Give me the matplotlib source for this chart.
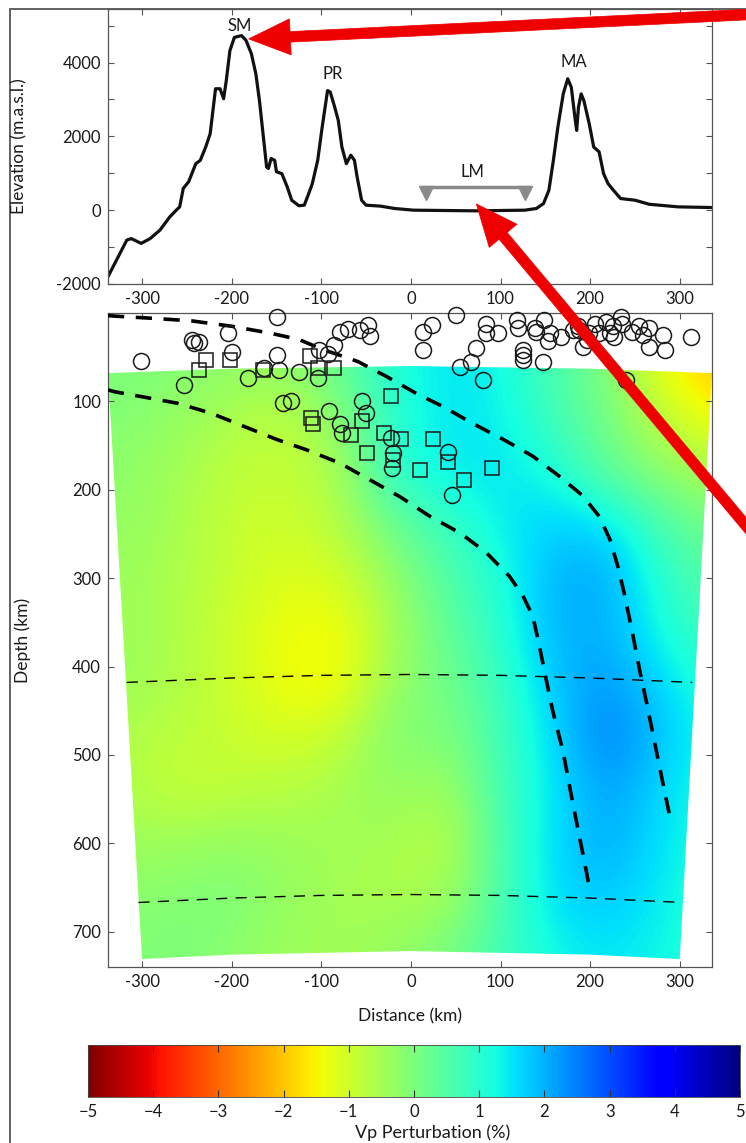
import numpy as np
import matplotlib
matplotlib.use('Agg')
import matplotlib.pyplot as plt
from matplotlib.patches import Polygon, Rectangle

plt.rcParams['font.family'] = ['Lato', 'DejaVu Sans']
plt.rcParams['axes.unicode_minus'] = False

# ---------------- data ----------------
# Elevation profile (km, m)
topo_dist = [-338, -317, -312, -301, -291, -280, -269, -261, -258, -254, -248, -240, -235,
             -229, -224, -218, -213, -209, -206, -202, -197, -189, -184, -178, -173, -169,
             -165, -161, -159, -156, -152, -150, -144, -138, -133, -125, -119, -114, -110,
             -104, -99, -93, -90, -85, -81, -77, -72, -67, -63, -60, -55, -50, -34, -18,
             3, 73, 127, 140, 148, 154, 159, 164, 170, 175, 179, 183, 185, 187, 190, 193,
             199, 204, 210, 215, 220, 226, 234, 250, 266, 298, 339]
topo_elev = [-1800, -810, -770, -900, -770, -540, -180, 20, 90, 590, 770, 1260, 1350,
             1710, 2070, 3290, 3290, 3020, 3510, 4320, 4680, 4730, 4600, 4240, 3690, 2970,
             2070, 1170, 1130, 1400, 1350, 1040, 990, 630, 270, 120, 135, 450, 720,
             1350, 2250, 3240, 3200, 2790, 2430, 1710, 1260, 1490, 1350, 900, 270, 135, 110, 45,
             0, -18, 0, 45, 180, 540, 1350, 2250, 3150, 3560, 3330, 2520, 2160, 2790, 3150, 2970,
             2340, 1710, 1580, 990, 720, 540, 315, 270, 160, 90, 70]

peak_names = ['SM', 'PR', 'MA', 'LM']
peak_x = [-191, -87, 182, 69]
peak_y = [5000, 3680, 4010, 1040]

lm_bar_x = [12, 133]
lm_bar_y = [620, 620]
lm_tri_x = [17, 127]
lm_tri_y = [470, 470]

# Velocity model (Vp perturbation, %) on a coarse grid
vel_x = [-320, -260, -200, -140, -80, -20, 40, 100, 160, 220, 280, 340]
vel_z = [60, 120, 180, 240, 300, 360, 420, 480, 540, 600, 660, 720]
vel = [
    [0.0, -0.1, -0.2, -0.3, 0.3, 1.1, 1.5, 1.3, 0.6, 0.0, -1.4, -2.0],
    [-0.1, -0.3, -0.6, -0.8, -0.2, 1.0, 1.5, 1.4, 0.7, 0.1, -0.8, -1.5],
    [-0.2, -0.5, -0.8, -0.9, -0.6, 1.0, 1.4, 1.5, 1.2, 0.3, -0.2, -0.6],
    [-0.3, -0.5, -0.9, -1.0, -0.7, 0.2, 0.8, 1.4, 1.7, 1.6, 0.6, 0.1],
    [-0.4, -0.6, -0.9, -1.2, -1.1, -0.3, 0.5, 1.1, 2.0, 2.1, 1.0, 0.4],
    [-0.4, -0.6, -1.0, -1.4, -1.5, -0.5, 0.3, 1.0, 2.0, 2.0, 1.2, 0.7],
    [-0.4, -0.6, -1.0, -1.4, -1.5, -0.3, 0.1, 0.8, 1.8, 2.3, 1.6, 1.0],
    [-0.6, -0.8, -0.9, -1.1, -0.9, 0.0, -0.1, 0.7, 1.6, 2.6, 1.8, 1.2],
    [-0.6, -0.9, -0.8, -0.7, -0.5, -0.3, -0.5, 0.7, 1.5, 2.2, 1.6, 1.1],
    [-0.4, -0.4, -0.3, -0.4, -0.5, -0.5, -0.8, 0.6, 1.6, 2.1, 1.5, 1.1],
    [-0.2, -0.1, 0.0, -0.3, -0.5, -0.6, -0.5, 0.6, 1.6, 1.8, 1.4, 1.0],
    [-0.1, 0.0, -0.2, -0.4, -0.5, -0.3, 0.0, 0.7, 1.3, 1.5, 1.3, 1.0],
]

# Model outline (km, depth)
field_top_x = [-338, -200, 0, 200, 336]
field_top_z = [68, 63, 60, 63, 68]
field_bot_x = [300, 200, 0, -200, -300]
field_bot_z = [731, 726, 722, 726, 731]

# Discontinuities
d410_x = [-317, -200, -100, 0, 100, 200, 314]
d410_z = [418, 413, 410, 409, 410, 413, 418]
d660_x = [-304, -200, -100, 0, 100, 200, 303]
d660_z = [667, 662, 659, 658, 659, 662, 667]

# Slab outlines
upper_x = [-338, -323, -288, -244, -200, -156, -125, -99, -59, -27, 6, 36, 69, 103, 136,
           166, 192, 210, 222, 231, 238, 248, 256, 263, 272, 281, 290]
upper_z = [3, 4, 6, 9, 15, 23, 30, 41, 55, 72, 91, 106, 125, 143, 162,
           185, 207, 230, 256, 287, 317, 366, 408, 441, 486, 531, 575]
lower_x = [-338, -331, -261, -224, -187, -150, -116, -79, -49, -12, 21, 55, 84, 110, 125,
           136, 142, 149, 158, 170, 179, 188, 196, 200]
lower_z = [87, 89, 102, 113, 128, 143, 155, 170, 187, 208, 230, 249, 271, 298, 320,
           343, 370, 405, 449, 497, 546, 592, 633, 655]

# Earthquakes
circ_x = [-301, -244, -242, -237, -204, -200, -253, -182, -164, -149, -147, -149, -125, -143,
          -134, -103, -104, -92, -86, -79, -70, -57, -48, -46, -55, -50, -91, -79, -77, -22,
          -20, -21, 41, 46,
          14, 23, 14, 50, 55, 67, 73, 80, 84, 84, 97, 118, 119, 125, 125, 125, 138, 140, 149,
          147, 153, 155, 168, 181, 186, 188, 192, 196, 199, 205, 210, 218, 222, 225, 227, 235,
          236, 240, 247, 255, 259, 266, 266, 281, 283, 313]
circ_z = [54, 30, 34, 33, 23, 44, 82, 73, 62, 47, 64, 4, 67, 102,
          100, 42, 74, 46, 36, 21, 18, 19, 14, 26, 100, 113, 111, 126, 136, 142,
          158, 175, 157, 206,
          21, 14, 42, 2, 61, 55, 40, 76, 12, 23, 23, 8, 17, 42, 47, 53, 17, 21, 8,
          56, 32, 23, 27, 19, 15, 19, 38, 30, 23, 12, 23, 10, 23, 15, 27, 4,
          12, 76, 21, 15, 25, 17, 38, 25, 42, 27]
sq_x = [-229, -237, -202, -165, -113, -104, -86, -22, -112, -109, -55, -67, -30, -11, 25,
        -49, -20, 10, 41, 59, 90]
sq_z = [53, 65, 53, 65, 49, 62, 62, 94, 119, 126, 122, 138, 136, 143, 143,
        158, 166, 178, 169, 189, 175]

cbar_ticks = [-5, -4, -3, -2, -1, 0, 1, 2, 3, 4, 5]

# ---------------- figure ----------------
W, H = 746, 1143
fig = plt.figure(figsize=(W / 100, H / 100), dpi=100)

def fax(l, t, r, b):
    return [l / W, 1 - b / H, (r - l) / W, (b - t) / H]

spine_c = '#555555'
tick_kw = dict(direction='in', length=4, width=0.8, color=spine_c, labelsize=12,
               labelcolor='#1a1a1a')

# ---- top panel
ax1 = fig.add_axes(fax(108, 9, 712, 284))
ax1.set_zorder(5)
ax1.plot(topo_dist, topo_elev, color='#111111', lw=2.3, solid_joinstyle='round')
ax1.set_xlim(-338, 336)
ax1.set_ylim(-2000, 5450)
ax1.set_xticks([-300, -200, -100, 0, 100, 200, 300])
ax1.set_yticks(range(-2000, 5001, 1000))
ax1.set_yticklabels(['-2000', '', '0', '', '2000', '', '4000', ''])
ax1.tick_params(top=True, right=True, pad=5, **tick_kw)
for s in ax1.spines.values():
    s.set_color(spine_c)
    s.set_linewidth(0.9)
ax1.set_ylabel('Elevation (m.a.s.l.)', fontsize=12.5, color='#1a1a1a')
ax1.yaxis.set_label_coords(-0.134, 0.5)
for n, x, y in zip(peak_names, peak_x, peak_y):
    ax1.text(x, y, n, ha='center', va='center', fontsize=12, color='#1a1a1a')
ax1.plot(lm_bar_x, lm_bar_y, color='#8a8a8a', lw=2.5, solid_capstyle='butt')
ax1.plot(lm_tri_x, lm_tri_y, ls='none', marker='v', ms=9.5, color='#8a8a8a')

# ---- bottom panel
ax2 = fig.add_axes(fax(108, 313, 712, 967))
dx = vel_x[1] - vel_x[0]
dz = vel_z[1] - vel_z[0]
extent = (vel_x[0] - dx / 2, vel_x[-1] + dx / 2, vel_z[-1] + dz / 2, vel_z[0] - dz / 2)
im = ax2.imshow(np.array(vel), extent=extent, origin='upper', cmap='jet_r', vmin=-5, vmax=5,
                interpolation='bicubic', aspect='auto', zorder=1)
poly_pts = list(zip(field_top_x, field_top_z)) + list(zip(field_bot_x, field_bot_z))
clip = Polygon(poly_pts, closed=True, transform=ax2.transData, fc='none', ec='none')
ax2.add_patch(clip)
im.set_clip_path(clip)

ax2.plot(d410_x, d410_z, color='black', lw=1.0, dashes=(8, 6), zorder=3)
ax2.plot(d660_x, d660_z, color='black', lw=1.0, dashes=(8, 6), zorder=3)
ax2.plot(upper_x, upper_z, color='black', lw=2.6, dashes=(4.5, 3.2), zorder=3)
ax2.plot(lower_x, lower_z, color='black', lw=2.6, dashes=(4.5, 3.2), zorder=3)

ax2.plot(circ_x, circ_z, ls='none', marker='o', ms=11.5, mfc='none', mec='#1a1a1a',
         mew=1.1, zorder=4, clip_on=False)
ax2.plot(sq_x, sq_z, ls='none', marker='s', ms=9.5, mfc='none', mec='#1a1a1a',
         mew=1.1, zorder=4)

ax2.set_xlim(-338, 336)
ax2.set_ylim(740, 0)
ax2.set_xticks([-300, -200, -100, 0, 100, 200, 300])
ax2.set_yticks([100, 200, 300, 400, 500, 600, 700])
ax2.tick_params(top=True, right=True, pad=5, **tick_kw)
for s in ax2.spines.values():
    s.set_color(spine_c)
    s.set_linewidth(0.9)
ax2.set_xlabel('Distance (km)', fontsize=12.5, color='#1a1a1a')
ax2.xaxis.set_label_coords(0.5, -0.063)
ax2.set_ylabel('Depth (km)', fontsize=12.5, color='#1a1a1a')
ax2.yaxis.set_label_coords(-0.128, 0.5)

# ---- colorbar
cax = fig.add_axes(fax(88, 1045, 740, 1097))
cb = fig.colorbar(im, cax=cax, orientation='horizontal', ticks=cbar_ticks)
cb.ax.set_xticklabels([str(t).replace('-', '\u2212') for t in cbar_ticks])
cb.ax.tick_params(direction='in', length=5, width=0.8, color='#333333', top=True,
                  bottom=True, labelsize=12, labelcolor='#1a1a1a', pad=5)
cb.outline.set_linewidth(0.6)
cb.outline.set_edgecolor('#444444')
fig.text(433 / W, 1 - 1133 / H, 'Vp Perturbation (%)', ha='center', va='center',
         fontsize=13, color='#1a1a1a')

# ---- frame
fig.add_artist(Rectangle((9.5 / W, -0.1), 2.0, 1.1 - 8.5 / H, transform=fig.transFigure,
                         fill=False, ec='#555555', lw=1.3))

# ---- red arrows
arrow_kw = dict(arrowstyle='simple,head_length=1.5,head_width=1.3,tail_width=0.38',
                mutation_scale=20, fc='#ee0000', ec='#ee0000', lw=0.5,
                shrinkA=0, shrinkB=0)
ax1.annotate('', xy=(-181, 4640), xycoords='data', xytext=(800 / W, 1 - 12 / H),
             textcoords='figure fraction', arrowprops=arrow_kw, annotation_clip=False,
             zorder=10)
ax1.annotate('', xy=(73, 170), xycoords='data', xytext=(800 / W, 1 - 590 / H),
             textcoords='figure fraction', arrowprops=arrow_kw, annotation_clip=False,
             zorder=10)

fig.savefig('out.png', dpi=100)
